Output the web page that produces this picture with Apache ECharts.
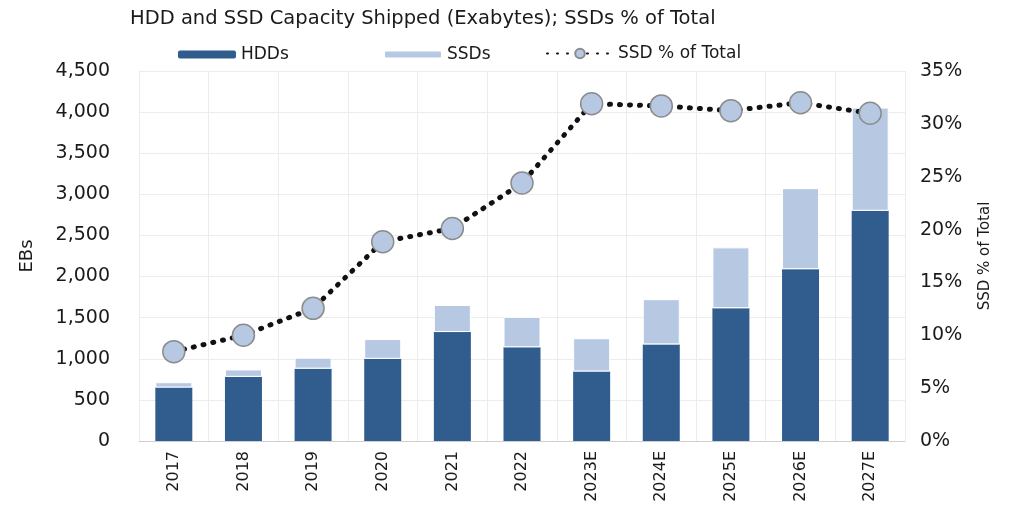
<!DOCTYPE html>
<html>
<head>
<meta charset="utf-8">
<script src="https://cdn.jsdelivr.net/npm/echarts@6/dist/echarts.min.js"></script>
<style>
  html, body { margin: 0; padding: 0; background: #fff; }
  #main { width: 1012px; height: 507px; }
</style>
</head>
<body>
<div id="main"></div>
<script>
const years = ['2017', '2018', '2019', '2020', '2021', '2022', '2023E', '2024E', '2025E', '2026E', '2027E'];
const hdd = [650, 780, 880, 1000, 1325, 1140, 845, 1175, 1615, 2090, 2800];
const ssd = [65, 90, 133, 240, 330, 370, 405, 550, 740, 985, 1255];
const ssdShare = [8.45, 10.0, 12.55, 18.85, 20.1, 24.4, 31.9, 31.7, 31.25, 32.0, 31.0];

const chart = echarts.init(document.getElementById('main'));
const font = 'DejaVu Sans, sans-serif';
const ink = '#1a1a1a';

const option = {
  animation: false,
  textStyle: { fontFamily: font },
  title: {
    text: 'HDD and SSD Capacity Shipped (Exabytes); SSDs % of Total',
    left: 125,
    top: 4,
    textStyle: { fontSize: 19.5, fontWeight: 'normal', color: ink, fontFamily: font }
  },
  legend: [
    { data: ['HDDs'], left: 173, top: 41, itemWidth: 58, itemHeight: 8, itemGap: 4,
      textStyle: { fontSize: 17, color: ink } },
    { data: ['SSDs'], left: 378, top: 41, itemWidth: 58, itemHeight: 8, itemGap: 4,
      textStyle: { fontSize: 17, color: ink } },
    { data: ['SSD % of Total'], left: 541, top: 40, itemWidth: 66, itemHeight: 12, itemGap: 4,
      textStyle: { fontSize: 17, color: ink } }
  ],
  grid: { left: 139, right: 107, top: 71, bottom: 66 },
  xAxis: {
    type: 'category',
    data: years,
    axisLine: { lineStyle: { color: '#cfcfcf' } },
    axisTick: { show: false },
    axisLabel: { rotate: 90, fontSize: 16, color: ink, margin: 10 },
    splitLine: { show: true, lineStyle: { color: '#ececec' } }
  },
  yAxis: [
    {
      type: 'value',
      name: 'EBs',
      nameLocation: 'middle',
      nameGap: 103,
      nameTextStyle: { fontSize: 18, color: ink },
      min: 0, max: 4500, interval: 500,
      axisLabel: {
        fontSize: 19, color: ink, margin: 29,
        formatter: v => v.toLocaleString('en-US')
      },
      axisLine: { show: false },
      axisTick: { show: false },
      splitLine: { lineStyle: { color: '#ececec' } }
    },
    {
      type: 'value',
      name: 'SSD % of Total',
      nameLocation: 'middle',
      nameGap: 73,
      nameRotate: 90,
      nameTextStyle: { fontSize: 15, color: ink },
      min: 0, max: 35, interval: 5,
      axisLabel: { fontSize: 19, color: ink, margin: 15, formatter: '{value}%' },
      axisLine: { show: false },
      axisTick: { show: false },
      splitLine: { show: false }
    }
  ],
  series: [
    {
      name: 'HDDs',
      type: 'bar',
      stack: 'cap',
      barWidth: 37,
      data: hdd,
      itemStyle: { color: '#305d8e' }
    },
    {
      name: 'SSDs',
      type: 'bar',
      stack: 'cap',
      barWidth: 37,
      data: ssd,
      itemStyle: { color: '#b7c9e2', borderColor: '#ffffff', borderWidth: 1 }
    },
    {
      name: 'SSD % of Total',
      type: 'line',
      yAxisIndex: 1,
      data: ssdShare,
      symbol: 'circle',
      symbolSize: 22,
      z: 5,
      lineStyle: { color: '#111', width: 5, type: [1, 9], cap: 'round' },
      itemStyle: { color: '#b7c9e2', borderColor: '#8c8c8c', borderWidth: 1.5 }
    }
  ]
};

chart.setOption(option);
</script>
</body>
</html>
